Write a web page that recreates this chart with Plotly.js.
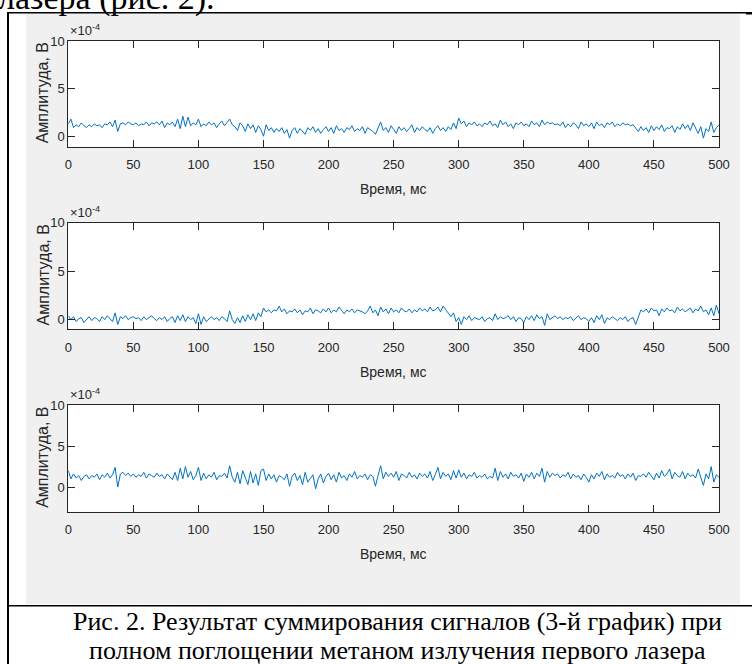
<!DOCTYPE html>
<html><head><meta charset="utf-8">
<script src="https://cdn.plot.ly/plotly-3.0.1.min.js"></script>
<style>html,body{margin:0;padding:0;background:#fff;overflow:hidden}#chart{width:752px;height:664px}</style>
</head><body><div id="chart"></div>
<script>
// ---- data (amplitude in units of 1e-4 V, sampled every 2 ms from 0 to 500 ms) ----
const timeStartMs = 0;
const timeStepMs = 2;
const xTicks = [0, 50, 100, 150, 200, 250, 300, 350, 400, 450, 500];
const xTickLabels = ['0', '50', '100', '150', '200', '250', '300', '350', '400', '450', '500'];
const yTicks = [0, 5, 10];
const yTickLabels = ['0', '5', '10'];
const xTitle = 'Время, мс';
const yTitle = 'Амплитуда, В';
const exponentLabel = '×10<sup>-4</sup>';
const leadText = 'лазера (рис. 2).';
const captionLine1 = 'Рис. 2. Результат суммирования сигналов (3-й график) при';
const captionLine2 = 'полном поглощении метаном излучения первого лазера';

const laser1Signal = [
 1.3,1.8,0.9,1.2,1.0,1.4,1.1,0.9,1.2,1.0,1.3,1.1,1.2,0.9,1.3,1.2,1.5,1.0,1.7,0.5,1.3,1.4,1.2,1.5,1.3,
 1.2,1.4,1.1,1.3,1.2,1.5,1.1,1.4,1.3,1.5,1.2,1.6,0.9,1.4,1.2,1.5,1.0,1.8,0.8,2.1,1.0,2.0,1.1,1.4,1.2,
 1.8,1.0,1.3,1.1,1.5,1.2,1.4,0.9,1.3,1.6,1.1,1.4,1.8,1.2,1.0,0.6,1.4,1.1,0.5,1.3,0.8,1.2,0.4,1.1,0.7,
 0.0,1.2,0.6,0.9,0.4,0.8,0.5,0.9,0.3,0.7,-0.2,0.6,0.9,0.3,0.8,0.5,0.2,0.9,0.6,1.0,0.4,0.8,0.3,0.7,1.0,
 0.5,0.9,0.3,1.1,0.6,0.8,0.4,0.9,0.7,1.1,0.5,0.8,0.6,1.0,0.3,0.9,0.7,0.5,0.2,0.8,1.5,0.6,0.9,0.4,1.1,
 0.7,0.3,1.0,0.6,0.9,0.5,0.8,1.2,0.4,0.9,0.6,1.0,0.7,0.5,0.9,0.3,0.8,1.1,0.6,0.9,0.5,1.0,0.7,1.4,0.8,
 1.9,1.3,1.6,1.0,1.4,1.2,1.5,1.1,1.3,1.0,1.4,1.2,1.6,1.1,1.3,0.9,1.7,1.2,1.5,1.0,1.3,0.8,1.4,1.2,1.5,
 1.1,1.3,1.0,1.6,1.2,1.4,1.0,1.7,1.2,1.5,1.3,1.4,1.2,1.3,1.1,1.5,0.9,1.3,1.0,1.4,1.2,0.8,1.5,1.1,1.3,
 1.0,1.4,0.8,1.5,1.1,1.3,0.9,1.4,1.2,1.5,1.0,1.3,1.1,1.4,1.2,1.3,1.1,1.2,0.9,0.5,1.0,0.6,0.9,0.4,1.1,
 0.6,1.0,0.7,1.2,0.5,0.9,0.8,1.1,0.4,1.0,0.7,1.3,0.8,1.2,0.6,1.4,0.9,0.3,1.0,-0.2,0.8,0.5,1.5,0.4,0.9,
 1.2
];
const laser2Signal = [
 0.4,0.0,0.3,-0.2,0.1,0.2,-0.3,0.0,0.3,-0.1,0.2,0.1,-0.2,0.3,0.0,0.4,0.1,-0.2,0.7,-0.5,0.3,0.1,0.4,0.0,0.2,
 0.3,0.1,0.2,-0.1,0.3,0.0,0.2,0.4,0.1,-0.1,0.2,0.0,0.3,-0.2,0.1,0.3,-0.3,0.4,-0.1,0.5,-0.2,0.3,0.0,0.2,-0.4,
 0.6,-0.5,0.3,-0.2,0.1,0.3,0.0,0.2,-0.1,0.3,0.1,-0.2,0.9,0.0,-0.4,0.2,-0.3,0.4,-0.2,0.5,0.0,0.6,-0.1,0.7,0.3,
 1.2,0.8,1.0,0.7,1.0,0.9,1.4,0.8,1.1,0.6,0.9,0.8,1.1,0.7,1.0,0.5,0.9,0.8,1.2,0.6,1.0,0.9,0.7,1.1,0.8,
 1.2,0.7,1.0,0.8,1.3,0.9,0.6,1.0,0.8,1.1,0.7,1.0,0.9,0.8,0.6,0.9,1.4,0.7,1.0,0.4,1.3,0.8,1.1,0.6,1.2,
 0.8,1.0,0.7,1.2,0.9,0.8,1.1,0.7,1.0,0.8,1.2,0.9,1.1,0.8,1.3,0.9,1.0,1.3,0.8,1.4,1.0,0.6,0.3,0.7,-0.2,
 0.2,-0.5,0.3,0.0,0.4,-0.1,0.2,0.1,0.0,0.3,-0.2,0.1,0.2,-0.1,0.6,0.0,0.3,0.1,0.2,0.4,0.0,0.3,-0.2,0.2,0.1,
 -0.3,0.3,0.0,0.4,-0.1,0.5,0.1,0.3,-0.6,0.6,0.0,0.2,0.4,0.1,0.3,0.0,0.2,0.1,0.3,-0.1,0.2,0.4,0.0,0.2,0.1,
 -0.2,0.2,-0.3,0.4,0.0,0.5,-0.4,0.2,0.0,0.3,0.1,-0.1,0.2,0.0,0.3,-0.2,0.1,0.2,-0.5,0.3,1.0,0.8,1.1,0.7,1.2,
 0.9,1.0,0.4,1.1,0.8,1.2,0.9,1.0,0.7,1.3,0.9,1.1,0.8,1.0,1.2,0.7,1.1,0.9,1.4,0.8,1.0,0.5,1.2,0.4,1.5,
 0.6
];
const summedSignal = [
 2.0,1.0,1.6,1.1,1.4,0.8,1.3,1.5,1.0,1.4,1.2,1.6,0.9,1.5,1.2,1.7,1.1,1.5,2.4,0.0,1.6,1.8,1.4,1.7,1.3,
 1.6,1.2,1.5,1.3,1.8,1.1,1.6,1.4,1.2,1.7,1.3,1.5,1.0,1.6,1.2,0.9,1.8,0.8,2.3,1.0,2.5,1.2,1.9,0.9,1.4,
 2.4,0.8,1.7,1.0,1.5,1.2,1.8,0.9,1.4,1.3,1.7,1.1,2.6,1.2,0.6,1.8,0.4,2.0,1.1,0.3,1.9,0.5,1.6,0.2,2.0,
 2.2,0.8,1.6,1.0,1.5,0.6,1.4,1.2,0.9,1.6,0.1,1.3,1.7,0.8,1.4,0.3,1.8,0.6,1.1,1.5,-0.2,1.0,1.6,0.5,1.3,
 1.7,0.9,1.5,0.6,1.8,1.1,1.4,0.8,1.6,1.2,1.9,1.0,1.4,1.2,1.6,0.9,1.5,1.3,0.1,1.4,2.6,1.0,1.8,1.3,1.7,
 1.2,1.9,0.8,1.6,1.4,1.1,1.8,1.2,1.5,1.0,1.7,1.3,1.6,1.1,1.9,0.8,1.5,2.4,1.0,1.8,1.3,1.6,0.9,2.0,1.1,
 2.1,1.2,1.7,1.0,1.5,1.3,1.8,1.1,1.4,1.2,1.6,1.0,1.3,1.1,2.3,0.8,1.9,1.2,1.6,1.0,1.8,1.3,1.5,1.1,1.7,
 0.7,1.6,1.2,1.8,1.0,1.7,1.3,2.3,0.6,1.9,1.2,1.7,1.4,1.6,1.1,1.5,1.3,1.8,1.0,1.6,1.2,1.4,0.9,1.6,1.2,
 0.6,1.5,1.0,1.7,1.3,1.9,0.9,1.6,1.2,1.4,1.1,1.8,1.3,1.5,1.0,1.6,1.2,1.7,0.8,1.4,1.3,1.6,1.2,1.8,1.4,
 0.9,1.7,1.1,2.0,1.3,1.6,2.2,1.0,1.8,1.4,1.2,1.9,1.0,1.7,1.3,1.5,1.1,2.2,1.2,0.2,1.6,1.0,2.5,0.6,1.5,
 1.2
];

// ---- layout geometry (pixels) ----
const W = 752, H = 664;
const fx = p => p / W;
const fy = p => 1 - p / H;
const axLeft = 68.3, axRight = 719;
const panels = [
  {top: 41,    bottom: 146.7, range: [-1.1, 10], titleY: 189},
  {top: 222.7, bottom: 329.3, range: [-1, 10],   titleY: 371.5},
  {top: 405,   bottom: 511.7, range: [-3, 10],   titleY: 554}
];
const signals = [laser1Signal, laser2Signal, summedSignal];

const sans = 'Liberation Sans, Arial, Helvetica, sans-serif';
const serif = 'Liberation Serif, Times New Roman, serif';
const ink = '#262626';

const data = [];
const layout = {
  width: W, height: H,
  margin: {l: 0, r: 0, t: 0, b: 0, pad: 0},
  paper_bgcolor: '#ffffff', plot_bgcolor: '#ffffff',
  showlegend: false,
  annotations: [], shapes: []
};

layout.shapes.push({type: 'rect', xref: 'paper', yref: 'paper', x0: fx(26), x1: fx(740), y0: fy(604), y1: fy(13.5),
  fillcolor: '#f0f0f0', line: {width: 0}, layer: 'below'});

panels.forEach((p, i) => {
  const n = i === 0 ? '' : String(i + 1);
  data.push({
    type: 'scatter', mode: 'lines', x0: timeStartMs, dx: timeStepMs, y: signals[i],
    xaxis: 'x' + n, yaxis: 'y' + n,
    line: {color: '#0072BD', width: 1}, hoverinfo: 'skip'
  });
  layout['xaxis' + n] = {
    domain: [fx(axLeft), fx(axRight)], anchor: 'y' + n, range: [0, 500],
    tickmode: 'array', tickvals: xTicks, ticktext: xTickLabels,
    ticks: 'inside', ticklen: 7, tickwidth: 1, tickcolor: ink,
    showline: true, linecolor: ink, linewidth: 1, mirror: 'ticks',
    showgrid: false, zeroline: false, ticklabelstandoff: 6,
    tickfont: {family: sans, size: 13, color: ink}, fixedrange: true
  };
  layout['yaxis' + n] = {
    domain: [fy(p.bottom), fy(p.top)], anchor: 'x' + n, range: p.range,
    tickmode: 'array', tickvals: yTicks, ticktext: yTickLabels,
    ticks: 'inside', ticklen: 7, tickwidth: 1, tickcolor: ink,
    showline: true, linecolor: ink, linewidth: 1, mirror: 'ticks',
    showgrid: false, zeroline: false,
    tickfont: {family: sans, size: 13, color: ink}, fixedrange: true
  };
  layout.shapes.push({type: 'rect', xref: 'x' + n + ' domain', yref: 'y' + n + ' domain',
    x0: 0, x1: 1, y0: 0, y1: 1, fillcolor: '#ffffff', line: {width: 0}, layer: 'below'});
  layout.annotations.push({text: exponentLabel, xref: 'paper', yref: 'paper',
    x: fx(68), y: fy(p.top - 1), xanchor: 'left', yanchor: 'bottom', showarrow: false,
    font: {family: sans, size: 13, color: ink}});
  layout.annotations.push({text: yTitle, xref: 'paper', yref: 'paper', textangle: -90,
    x: fx(42.5), y: fy((p.top + p.bottom) / 2 - 1), xanchor: 'center', yanchor: 'middle', showarrow: false,
    font: {family: sans, size: 16, color: ink}});
  layout.annotations.push({text: xTitle, xref: 'paper', yref: 'paper',
    x: fx((axLeft + axRight) / 2), y: fy(p.titleY), xanchor: 'center', yanchor: 'middle', showarrow: false,
    font: {family: sans, size: 14, color: ink}});
});

// frame of the table cell around the figure
layout.shapes.push({type: 'line', xref: 'paper', yref: 'paper', x0: fx(7), x1: fx(752), y0: fy(12.8), y1: fy(12.8), line: {color: '#000', width: 1.6}});
layout.shapes.push({type: 'line', xref: 'paper', yref: 'paper', x0: fx(8), x1: fx(8), y0: fy(12), y1: fy(664), line: {color: '#000', width: 2}});
layout.shapes.push({type: 'line', xref: 'paper', yref: 'paper', x0: fx(7), x1: fx(752), y0: fy(605.8), y1: fy(605.8), line: {color: '#000', width: 1.6}});
layout.shapes.push({type: 'rect', xref: 'paper', yref: 'paper', x0: fx(746), x1: fx(752), y0: fy(14.5), y1: fy(12), fillcolor: '#000', line: {width: 0}});

// surrounding document text
layout.annotations.push({text: leadText, xref: 'paper', yref: 'paper', x: fx(-4), y: fy(-2), xanchor: 'left', yanchor: 'middle',
  showarrow: false, font: {family: serif, size: 34, color: '#000'}});
layout.annotations.push({text: captionLine1, xref: 'paper', yref: 'paper', x: fx(397), y: fy(621), xanchor: 'center', yanchor: 'middle',
  showarrow: false, font: {family: serif, size: 26, color: '#000'}});
layout.annotations.push({text: captionLine2, xref: 'paper', yref: 'paper', x: fx(397), y: fy(650), xanchor: 'center', yanchor: 'middle',
  showarrow: false, font: {family: serif, size: 26, color: '#000'}});

Plotly.newPlot('chart', data, layout, {staticPlot: true, displayModeBar: false});
</script>
</body></html>
